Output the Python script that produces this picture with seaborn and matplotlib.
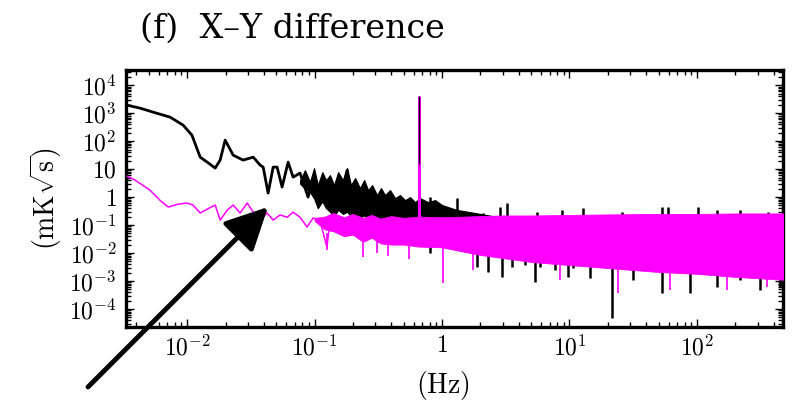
import numpy as np
import pandas as pd
import matplotlib
matplotlib.use("Agg")
import matplotlib.pyplot as plt
import matplotlib.ticker as mticker
import seaborn as sns

# ---------------- data ----------------
# black trace, low-frequency part (Hz, mK*sqrt(s))
black_f = [0.00338, 0.00428, 0.0054, 0.00736, 0.0093, 0.0109, 0.01265, 0.01435, 0.0166,
           0.01815, 0.01987, 0.02296, 0.02748, 0.033, 0.0374, 0.0395, 0.0432, 0.0473,
           0.0508, 0.0556, 0.0620, 0.0678, 0.0769, 0.0889, 0.0973, 0.1146, 0.1276,
           0.1397, 0.153, 0.18, 0.19]
black_v = [1930, 1510, 1090, 720, 373, 164, 26.8, 17.8, 10.9,
           21, 109, 31.6, 21, 26.8, 13.9, 11.8, 1.39, 11.8,
           11.8, 2.28, 17.8, 5.18, 7.2, 1.0, 4.05, 1.0, 2.28,
           0.193, 0.44, 9.2, 1.0]
# black dense band envelope
black_band_f = [0.077, 0.084, 0.092, 0.099, 0.106, 0.115, 0.123, 0.132, 0.142, 0.153,
                0.167, 0.180, 0.193, 0.208, 0.227, 0.245, 0.263, 0.283, 0.309, 0.332,
                0.357, 0.391, 0.428, 0.468, 0.513, 0.561, 0.614, 0.672, 0.777, 0.882,
                1.0, 1.3, 2.0, 3.0, 5.0, 10.0, 20.0, 50.0, 100.0, 200.0, 500.0]
black_band_hi = [4.0, 9.2, 3.5, 10.9, 2.68, 7.8, 4.05, 6.1, 2.68, 7.8,
                 4.05, 10.9, 2.68, 4.8, 2.1, 4.05, 1.78, 2.68, 1.18, 2.1,
                 1.18, 1.78, 0.92, 1.18, 0.78, 1.0, 0.66, 0.92, 0.66, 0.78,
                 0.52, 0.35, 0.25, 0.18, 0.18, 0.18, 0.18, 0.18, 0.18, 0.18, 0.18]
black_band_lo = [3.0, 2.0, 1.5, 0.9, 0.4, 0.7, 0.4, 0.3, 0.2, 0.35,
                 0.25, 0.3, 0.2, 0.25, 0.18, 0.22, 0.17, 0.2, 0.15, 0.18,
                 0.15, 0.17, 0.14, 0.16, 0.13, 0.15, 0.12, 0.14, 0.12, 0.1,
                 0.03, 0.015, 0.011, 0.0086, 0.0062, 0.0048, 0.0038, 0.0027, 0.0023, 0.0018, 0.0014]
# black spikes sticking out of the band
black_up_f = [0.805, 1.31, 2.1, 2.85, 3.23, 5.56, 8.73, 12.7, 25.8, 53.1, 59.3, 102, 144, 217, 360]
black_up_v = [1.0, 0.92, 0.27, 0.44, 0.61, 0.3, 0.34, 0.40, 0.30, 0.44, 0.44, 0.44, 0.34, 0.34, 0.30]
black_dn_f = [0.805, 1.88, 2.29, 2.95, 3.54, 4.47, 5.36, 5.87, 7.7, 9.7, 10.6, 14.5, 21.6,
              31.5, 53.1, 88.1, 144, 217, 312, 447]
black_dn_v = [0.01, 0.0032, 0.0021, 0.0014, 0.0032, 0.0037, 0.00092, 0.0032, 0.0025, 0.0014,
              0.0029, 0.0013, 4.8e-5, 0.0011, 0.00037, 0.00037, 0.00061, 0.0011, 0.00048, 0.00061]

# magenta trace, low-frequency part
mag_f = [0.00338, 0.0039, 0.0051, 0.0061, 0.0071, 0.0085, 0.01, 0.0111, 0.01265, 0.01435,
         0.0166, 0.01815, 0.0206, 0.02296, 0.026, 0.0296, 0.033, 0.0374, 0.0424, 0.0473,
         0.0536, 0.0609, 0.0678, 0.0769, 0.0873, 0.0973, 0.110, 0.125, 0.132, 0.158]
mag_v = [5.6, 4.05, 1.78, 0.78, 0.44, 0.56, 0.61, 0.52, 0.27, 0.37,
         0.52, 0.15, 0.34, 0.52, 0.27, 0.61, 0.29, 0.15, 0.27, 0.15,
         0.23, 0.19, 0.29, 0.19, 0.085, 0.178, 0.15, 0.016, 0.128, 0.15]
# magenta dense band envelope
mag_band_f = [0.1, 0.12, 0.14, 0.17, 0.2, 0.24, 0.28, 0.33, 0.4, 0.5, 0.65, 1.0, 1.5, 2.0,
              3.0, 5.0, 10.0, 20.0, 50.0, 100.0, 200.0, 500.0]
mag_band_hi = [0.18, 0.2, 0.27, 0.19, 0.25, 0.18, 0.23, 0.17, 0.21, 0.18, 0.2, 0.19, 0.2, 0.21,
               0.22, 0.22, 0.23, 0.24, 0.25, 0.25, 0.26, 0.26]
mag_band_lo = [0.14, 0.07, 0.06, 0.04, 0.045, 0.025, 0.035, 0.022, 0.02, 0.02, 0.017, 0.016,
               0.011, 0.0085, 0.0066, 0.0048, 0.0037, 0.0029, 0.0021, 0.0018, 0.0014, 0.0011]
mag_dn_f = [0.125, 0.24, 0.31, 0.38, 0.55, 1.02, 1.75, 8.4, 24.0, 61.4, 172, 354]
mag_dn_v = [0.0128, 0.0072, 0.01, 0.008, 0.006, 0.00086, 0.0025, 0.0011, 0.00037, 0.00048,
            0.00048, 0.00061]

# spectral line at ~0.66 Hz
line_f = 0.66
line_mag_top = 4000.0
line_black_bottom = 15.0

# ---------------- style ----------------
sns.set_style("ticks")
plt.rcParams["font.family"] = ["cmr10", "DejaVu Serif"]
plt.rcParams["mathtext.fontset"] = "cm"
plt.rcParams["axes.unicode_minus"] = False
plt.rcParams["axes.formatter.use_mathtext"] = True
for k in ["text.color", "axes.labelcolor", "xtick.color", "ytick.color", "axes.edgecolor"]:
    plt.rcParams[k] = "black"

BLACK = "#000000"
MAG = "#ff00ff"

fig = plt.figure(figsize=(7.94, 4.03), dpi=100)
ax = fig.add_axes([0.159, 0.189, 0.827, 0.637])

# black series
ax.fill_between(black_band_f, black_band_lo, black_band_hi, color=BLACK, lw=0.8,
                edgecolor=BLACK, zorder=2)
ax.vlines(black_up_f, 0.05, black_up_v, color=BLACK, lw=1.8, zorder=2)
ax.vlines(black_dn_f, 0.05, black_dn_v, color=BLACK, lw=1.8, zorder=2)
sns.lineplot(x=black_f, y=black_v, ax=ax, color=BLACK, lw=2.0, zorder=3,
             estimator=None, sort=False)

# magenta series (drawn on top)
ax.fill_between(mag_band_f, mag_band_lo, mag_band_hi, color=MAG, lw=0.6,
                edgecolor=MAG, zorder=4)
ax.vlines(mag_dn_f, 0.05, mag_dn_v, color=MAG, lw=1.2, zorder=4)
sns.lineplot(x=mag_f, y=mag_v, ax=ax, color=MAG, lw=1.1, zorder=4,
             estimator=None, sort=False)
ax.vlines([line_f], 0.1, line_mag_top, color=MAG, lw=2.2, zorder=5)
ax.vlines([line_f], line_black_bottom, line_mag_top, color=BLACK, lw=0.9, zorder=6)

# axes
ax.set_xscale("log")
ax.set_yscale("log")
ax.set_xlim(10 ** -2.478, 10 ** 2.675)
ax.set_ylim(10 ** -4.64, 10 ** 4.54)

ax.xaxis.set_major_locator(mticker.LogLocator(base=10, numticks=20))
ax.yaxis.set_major_locator(mticker.LogLocator(base=10, numticks=20))
ax.xaxis.set_minor_locator(mticker.LogLocator(base=10, subs=np.arange(2, 10), numticks=100))
ax.yaxis.set_minor_locator(mticker.LogLocator(base=10, subs=np.arange(2, 10), numticks=100))


def xfmt(v, pos):
    e = int(round(np.log10(v)))
    return r"$1$" if e == 0 else r"$10^{%d}$" % e


def yfmt(v, pos):
    e = int(round(np.log10(v)))
    if e == 0:
        return r"$1$"
    if e == 1:
        return r"$10$"
    return r"$10^{%d}$" % e


ax.xaxis.set_major_formatter(mticker.FuncFormatter(xfmt))
ax.yaxis.set_major_formatter(mticker.FuncFormatter(yfmt))
ax.xaxis.set_minor_formatter(mticker.NullFormatter())
ax.yaxis.set_minor_formatter(mticker.NullFormatter())

ax.tick_params(which="both", direction="in", top=True, right=True, colors="black", width=1.0)
ax.tick_params(which="major", length=6, labelsize=17)
ax.tick_params(which="minor", length=3.5)
ax.tick_params(axis="y", pad=7)
ax.tick_params(axis="x", pad=6)
for s in ax.spines.values():
    s.set_linewidth(2.4)
    s.set_color("black")

ax.set_xlabel(r"$(\mathrm{Hz})$", fontsize=20)
ax.set_ylabel(r"$(\mathrm{mK}\sqrt{\mathrm{s}})$", fontsize=20, labelpad=4)
ax.xaxis.set_label_coords(0.4825, -0.165)

fig.text(140 / 794, 1 - 29 / 403, "(f)  X\u2013Y difference", fontsize=24,
         ha="left", va="center", family=["DejaVu Serif"], color="black")

# arrow
ax.annotate("", xy=(268, 403 - 207), xycoords="figure pixels",
            xytext=(88, 403 - 387), textcoords="figure pixels",
            arrowprops=dict(arrowstyle="-|>,head_length=1.3,head_width=0.65",
                            lw=3.5, color="black", mutation_scale=20,
                            shrinkA=0, shrinkB=0),
            annotation_clip=False, zorder=10)

fig.savefig("out.png", dpi=100)
